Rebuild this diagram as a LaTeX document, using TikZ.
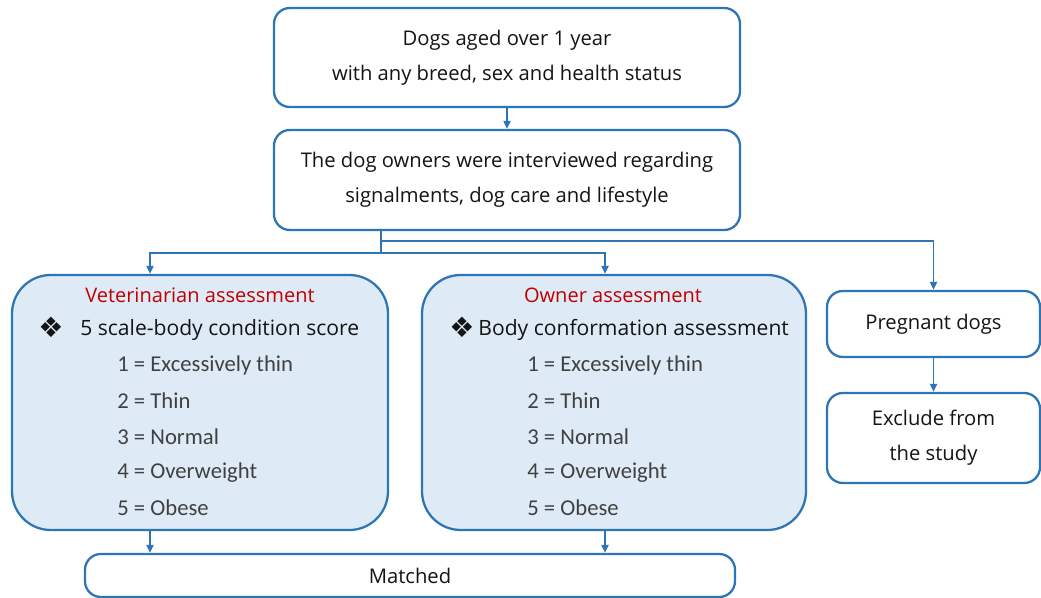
\documentclass[tikz,border=0pt]{standalone}
\usepackage{fontspec}
\setmainfont{Open Sans}
\newfontfamily\listfont{Carlito}
\newfontfamily\symfont{DejaVu Sans}
\usepackage{tikz}
\usetikzlibrary{arrows.meta,positioning}
\definecolor{dgblue}{RGB}{46,117,182}
\definecolor{dglight}{RGB}{222,235,247}
\definecolor{dgred}{RGB}{192,0,0}
\definecolor{dgtext}{RGB}{20,20,20}
\definecolor{dggray}{RGB}{64,64,64}
\tikzset{
  dgbox/.style={draw=dgblue, line width=1.3pt, rounded corners=9pt, fill=white, align=center, inner sep=0pt, text=dgtext, font=\fontsize{11.5}{20}\selectfont},
  dgbig/.style={draw=dgblue, line width=1.3pt, rounded corners=22pt, fill=dglight, inner sep=0pt},
  dghead/.style={text=dgred, font=\fontsize{11.4}{12}\selectfont},
  dgsub/.style={anchor=west, inner sep=0pt, text=dgtext, font=\fontsize{12}{12}\selectfont},
  dgsym/.style={text=dgtext, font=\symfont\fontsize{16}{16}\selectfont},
  dgitem/.style={anchor=west, inner sep=0pt, text=dggray, font=\listfont\fontsize{12.9}{12}\selectfont},
  dgarr/.style={-{Triangle[length=1.6mm,width=1.4mm]}, line width=1.1pt, draw=dgblue},
  dgline/.style={line width=1.1pt, draw=dgblue}
}

\begin{document}
\begin{tikzpicture}
  \useasboundingbox (0,0) rectangle (20.82,-11.96);
  \node[dgbox, minimum width=9.32cm, minimum height=1.98cm] (dogs) at (10.14,-1.15) {Dogs aged over 1 year\\with any breed, sex and health status};
  \node[dgbox, minimum width=9.32cm, minimum height=2.0cm] (intv) at (10.14,-3.6) {The dog owners were interviewed regarding\\signalments, dog care and lifestyle};
  \node[dgbig, minimum width=7.52cm, minimum height=5.1cm] (vet) at (4.0,-8.05) {};
  \node[dgbig, minimum width=7.68cm, minimum height=5.1cm] (own) at (12.28,-8.05) {};
  \node[dgbox, minimum width=4.26cm, minimum height=1.32cm] (preg) at (18.67,-6.48) {Pregnant dogs};
  \node[dgbox, minimum width=4.26cm, minimum height=1.8cm] (excl) at (18.67,-8.76) {Exclude from\\the study};
  \node[dgbox, minimum width=13.0cm, minimum height=0.86cm] (match) at (8.2,-11.51) {Matched};

  \node[dghead] (vethead) at (4.0,-5.9) {Veterinarian assessment};
  \node[dgsym] (vetsym) at (1.02,-6.54) {❖};
  \node[dgsub] (vetsub) at (1.6,-6.6) {5 scale-body condition score};
  \node[dghead] (ownhead) at (12.26,-5.9) {Owner assessment};
  \node[dgsym] (ownsym) at (9.24,-6.54) {❖};
  \node[dgsub] (ownsub) at (9.56,-6.6) {Body conformation assessment};
  \foreach \n/\t [count=\i] in {1/Excessively thin, 2/Thin, 3/Normal, 4/Overweight, 5/Obese} {
    \node[dgitem] (v\i) at (2.34,-7.3-0.715*\i+0.715) {\n{} = \t};
    \node[dgitem] (o\i) at (10.54,-7.3-0.715*\i+0.715) {\n{} = \t};
  }

  \coordinate (hi) at (7.62,-4.82);
  \coordinate (lo) at (7.62,-5.06);
  \draw[dgarr] (dogs) -- (intv);
  \draw[dgline] (intv.south -| hi) -- (lo);
  \draw[dgarr] (hi) -| (preg);
  \draw[dgarr] (lo) -| ([xshift=-1cm]vet.north);
  \draw[dgarr] (lo) -| ([xshift=-0.18cm]own.north);
  \draw[dgarr] (preg) -- (excl);
  \draw[dgarr] ([xshift=-1cm]vet.south) -- ([xshift=-1cm]vet.south |- match.north);
  \draw[dgarr] ([xshift=-0.18cm]own.south) -- ([xshift=-0.18cm]own.south |- match.north);
\end{tikzpicture}
\end{document}
